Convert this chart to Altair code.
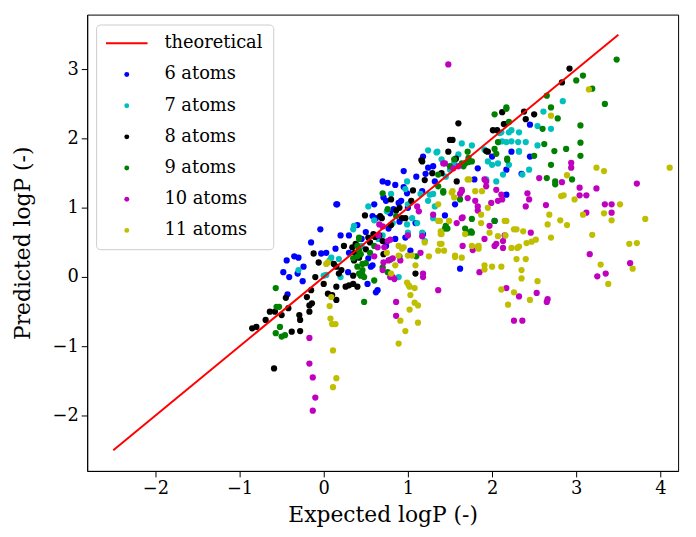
import altair as alt
import pandas as pd

series_names = ["6 atoms", "7 atoms", "8 atoms", "9 atoms", "10 atoms", "11 atoms"]
series_colors = ["#0000ff", "#00bfbf", "#000000", "#008000", "#bf00bf", "#bfbf00"]

theoretical_x = [-2.5, 3.5]
theoretical_y = [-2.5, 3.5]

atoms6 = [(0.15,1.05),(-0.04,0.69),(-0.44,0.24),(-0.3,0.28),(-0.35,0.3),(-0.48,0.07),(-0.41,0.0),
          (-0.31,0.05),(-0.24,0.15),(-0.25,-0.06),(-0.43,-0.25),(-0.03,0.34),(0.03,0.35),(0.7,1.38),
          (0.71,1.15),(0.74,1.1),(0.58,0.88),(0.53,0.27),(0.56,0.15),(0.52,-0.1),(0.62,-0.22),(0.14,0.41),
          (2.45,2.2),(1.18,1.74),(2.23,1.81),(2.45,1.74),(2.0,1.74),(0.95,1.53),(0.76,1.36),(0.85,1.33),
          (0.16,1.05),(0.99,1.21),(1.21,1.49),(1.17,1.24),(1.32,1.38),(0.92,1.1),(0.83,0.98),(0.62,0.85),
          (0.77,0.7),(0.97,0.57),(1.18,0.62),(0.85,0.55),(1.09,0.78),(0.74,0.45),(0.58,0.17),(0.29,0.07),
          (0.64,-0.19),(1.62,0.12),(1.83,1.57),(2.17,1.55),(2.35,1.49),(2.03,0.81),(1.79,1.41),(1.24,1.58),
          (0.89,1.07),(0.79,0.92),(1.44,0.89),(1.56,1.05),(1.03,0.38),(2.17,1.19),(-0.15,0.5),(0.4,0.75),
          (0.3,0.6),(1.1,1.45),(1.0,1.0),(0.9,0.8),(0.45,0.55),(0.5,0.65),(0.6,1.05),(0.95,1.3),
          (1.3,1.6),(0.3,0.35),(0.2,0.6)]

atoms7 = [(2.84,2.54),(2.61,2.39),(2.54,2.18),(2.7,2.14),(2.54,1.9),(2.23,2.12),(2.32,2.09),(2.12,1.96),
          (2.23,1.96),(2.09,2.08),(2.32,1.82),(2.4,1.95),(1.64,1.93),(1.76,1.9),(1.24,1.83),(1.34,1.8),
          (1.6,1.77),(1.91,1.84),(2.08,1.95),(1.35,1.81),(2.11,2.09),(2.2,2.09),(2.31,1.95),(2.32,1.81),
          (2.17,1.95),(1.95,1.67),(2.07,1.64),(2.05,1.38),(1.93,1.41),(0.53,1.02),(0.36,0.74),(0.99,1.38),
          (1.26,1.19),(1.24,1.1),(1.32,1.02),(1.3,0.85),(1.05,0.85),(0.99,0.76),(1.0,0.64),(0.09,0.28),
          (0.18,0.26),(1.5,1.55),(0.35,0.69),(0.6,0.82),(-0.3,0.1),(0.0,0.02),(0.03,0.03),(0.07,0.24),
          (0.2,0.0),(0.97,1.27),(1.15,1.2),(1.3,1.2),(1.11,0.78),(1.17,0.64),(1.2,0.52),(0.82,0.78),
          (0.89,0.0),(2.13,1.48),(2.36,1.48),(2.44,1.55),(2.0,1.62),(2.2,1.62),(0.7,0.6),(0.8,1.2),
          (1.45,1.45),(1.0,1.05),(0.45,0.45),(0.65,0.55),(0.75,0.95),(1.4,1.7),(1.55,1.65)]

atoms8 = [(-0.85,-0.74),(-0.8,-0.72),(-0.69,-0.62),(-0.64,-0.5),(-0.58,-0.5),(-0.42,-0.45),(-0.29,-0.55),
          (-0.28,-0.62),(-0.38,-0.79),(-0.28,-0.78),(-0.17,-0.41),(-0.17,-0.5),(-0.14,-0.38),(-0.59,-1.32),
          (0.15,-0.33),(0.49,0.89),(-0.12,0.34),(-0.06,0.21),(0.15,0.15),(0.24,0.45),(0.18,0.05),(0.21,0.1),
          (0.26,-0.14),(0.35,-0.1),(0.15,-0.14),(0.36,0.24),(0.53,0.57),(0.66,0.6),(0.67,0.88),(0.7,0.52),
          (-0.15,-0.19),(-0.2,-0.29),(0.05,-0.24),(0.1,-0.26),(0.35,0.02),(1.6,2.22),(1.5,1.98),(1.53,1.98),
          (1.48,1.81),(1.17,1.67),(1.29,1.5),(1.4,1.5),(1.58,1.38),(1.06,1.25),(1.04,1.1),(0.8,1.12),
          (0.86,0.96),(0.97,0.85),(0.93,0.85),(0.69,0.85),(0.59,0.62),(0.61,0.58),(0.42,0.28),(0.38,0.48),
          (0.34,0.43),(0.37,0.35),(0.12,0.19),(0.3,-0.12),(0.4,-0.14),(0.71,0.33),(1.09,0.05),(1.95,1.81),
          (2.01,2.12),(2.15,2.21),(2.12,2.38),(2.06,2.12),(2.38,2.39),(2.4,2.28),(2.14,2.21),(1.16,1.69),
          (1.93,1.82),(1.57,1.71),(2.92,3.01),(2.83,2.81),(2.5,2.35),(-0.5,-0.55),(-0.45,-0.3),(-0.1,0.0),
          (0.0,-0.1),(0.5,0.4),(0.55,0.5),(0.8,0.75),(0.9,1.0),(0.45,0.05),(1.2,1.4)]

atoms9 = [(-0.57,-0.16),(-0.56,-0.43),(-0.53,-0.43),(-0.52,-0.72),(-0.57,-0.81),(-0.5,-0.86),(-0.46,-0.84),
          (0.48,-0.36),(0.42,0.55),(0.42,0.38),(0.35,0.27),(0.4,0.3),(0.44,0.02),(0.48,0.0),(0.46,0.1),
          (0.7,1.21),(2.17,2.45),(2.03,2.35),(2.07,1.95),(2.05,1.78),(2.18,1.69),(1.71,1.81),(1.64,1.64),
          (1.68,1.64),(1.72,1.66),(1.76,1.67),(1.66,1.6),(1.36,1.48),(1.36,1.31),(1.42,1.24),(1.62,1.12),
          (1.76,0.84),(1.68,0.7),(1.76,0.64),(2.03,0.81),(1.44,0.7),(0.86,0.88),(0.76,0.98),(0.42,0.57),
          (0.4,0.45),(0.44,0.33),(0.46,0.19),(0.4,0.15),(0.42,0.05),(0.46,0.03),(0.5,0.2),(0.7,0.14),
          (0.76,0.07),(1.42,1.22),(1.45,0.74),(1.47,0.7),(1.71,0.64),(1.75,0.66),(0.79,0.25),(2.7,1.62),
          (2.65,1.43),(2.75,1.38),(2.75,1.34),(2.95,1.41),(3.48,3.14),(3.08,2.91),(3.0,2.84),(3.19,2.72),
          (2.65,2.62),(2.7,2.45),(3.34,2.5),(2.78,2.29),(3.05,2.19),(2.6,2.14),(2.62,1.92),(3.05,1.94),
          (2.88,1.85),(2.74,1.82),(3.05,1.75),(2.5,1.75),(2.17,2.43),(2.2,2.24),(1.72,1.72),(2.03,1.85),
          (2.18,1.71),(0.9,0.3),(1.1,0.3),(0.55,0.35),(0.6,0.45),(1.5,1.6),(1.55,1.7),(0.6,-0.05)]

atoms10 = [(1.48,3.07),(-0.17,-0.88),(-0.17,-1.25),(-0.13,-1.45),(-0.1,-1.74),(-0.13,-1.93),(0.86,-0.36),
           (0.86,-0.56),(2.26,-0.63),(2.36,-0.63),(2.65,-0.36),(2.94,1.58),(2.94,1.65),(2.56,1.43),(2.83,1.37),
           (3.04,1.29),(3.24,1.28),(3.04,1.18),(3.12,1.18),(3.72,1.35),(3.34,1.05),(3.42,1.05),(3.42,0.93),
           (3.12,0.93),(2.64,1.04),(3.16,0.33),(3.64,0.2),(3.35,0.05),(3.25,0.01),(2.53,-0.23),(2.66,-0.32),
           (1.44,1.64),(1.54,1.57),(1.6,1.6),(1.91,1.41),(1.93,1.31),(2.11,1.19),(1.99,1.07),(2.42,1.21),
           (2.44,1.12),(2.4,1.02),(1.64,1.26),(1.62,1.2),(1.83,1.02),(1.83,0.96),(1.58,0.78),(1.65,0.86),
           (1.11,1.02),(1.13,0.95),(0.79,0.54),(0.76,0.52),(0.91,0.24),(0.77,0.24),(1.65,0.45),(1.77,0.39),
           (2.03,0.45),(2.13,0.42),(2.13,0.52),(2.46,0.64),(1.91,0.55),(1.85,0.07),(1.36,-0.19),(2.17,-0.16),
           (2.32,-0.28),(1.18,0.05),(1.18,0.0),(0.82,0.0),(0.66,0.76),(0.7,0.73),(0.64,0.43),(0.72,0.43),
           (0.82,0.27),(0.71,0.21),(0.7,0.1),(0.79,0.0),(0.84,-0.03),(1.17,0.59),(1.15,0.35),(1.42,1.64),
           (1.64,1.24),(1.71,1.14),(1.8,1.1),(1.93,1.38),(1.64,0.85),(1.97,0.74),(2.15,0.6),(2.05,0.48),
           (2.07,1.1),(2.12,1.12),(2.05,1.26),(0.65,0.6),(0.6,0.3),(1.0,0.6),(1.3,0.9)]

atoms11 = [(0.07,-0.42),(0.08,-0.6),(0.1,-0.68),(0.14,-0.68),(0.11,-1.06),(0.15,-1.46),(0.11,-1.59),
           (0.05,0.21),(0.09,-0.29),(1.08,-0.37),(1.12,-0.41),(1.02,-0.47),(0.91,-0.63),(1.12,-0.66),
           (0.97,-0.78),(0.89,-0.96),(2.19,-0.4),(2.45,-0.33),(3.24,1.58),(3.33,1.53),(4.11,1.58),(2.89,1.47),
           (2.82,1.17),(2.85,1.18),(2.98,1.12),(2.68,0.9),(3.08,0.9),(3.33,0.92),(3.52,1.05),(3.42,0.82),
           (2.66,0.76),(2.81,0.82),(2.89,0.75),(3.82,0.84),(3.19,0.61),(2.7,0.57),(2.52,0.54),(3.63,0.48),
           (3.72,0.49),(3.29,0.18),(3.67,0.12),(3.38,-0.1),(2.54,-0.06),(1.71,1.41),(1.8,1.24),(1.88,1.24),
           (1.52,1.22),(1.55,1.15),(1.36,1.05),(1.87,0.9),(1.87,0.78),(1.97,0.64),(2.15,0.81),(1.36,0.81),
           (1.39,0.66),(1.39,0.62),(1.68,0.62),(2.07,0.59),(2.16,0.6),(2.26,0.69),(2.37,0.66),(1.4,0.48),
           (1.36,0.38),(1.43,0.38),(1.83,0.44),(1.84,0.41),(1.56,0.29),(2.23,0.42),(2.32,0.44),(2.41,0.49),
           (2.47,0.51),(2.29,0.26),(2.4,0.26),(1.91,0.11),(2.0,0.15),(2.11,0.15),(2.35,0.1),(2.35,-0.02),
           (1.02,-0.14),(1.08,-0.16),(1.03,-0.26),(2.11,-0.18),(2.26,-0.22),(1.09,0.17),(1.0,0.31),(0.89,0.45),
           (0.93,0.41),(0.89,0.31),(1.73,1.41),(1.53,1.24),(1.95,1.0),(1.38,0.81),(1.49,0.81),(1.4,0.62),
           (1.38,0.48),(1.56,0.31),(2.29,0.69),(2.17,0.81),(1.05,0.31),(0.95,0.43),(0.85,0.17),(0.99,-0.08),
           (1.01,-0.12),(1.76,0.45),(1.84,0.45),(2.3,0.42),(1.91,0.17),(1.64,0.28),(0.03,0.19),(3.15,2.71),
           (2.7,2.33),(0.75,0.35),(0.8,0.05),(1.2,0.5),(1.25,0.3)]

all_series = [atoms6, atoms7, atoms8, atoms9, atoms10, atoms11]

rows = []
for name, pts in zip(series_names, all_series):
    for (px, py) in pts:
        rows.append({"x": px, "y": py, "series": name})
points_df = pd.DataFrame(rows)
line_df = pd.DataFrame({"x": theoretical_x, "y": theoretical_y})

FONT = "DejaVu Serif"
legend_domain = ["theoretical"] + series_names
legend_colors = ["#ff0000"] + series_colors
line_shape = "M-8.4,-0.4H8.4V0.4H-8.4Z"
legend_shapes = [line_shape] + ["circle"] * 6

x_scale = alt.Scale(domain=[-2.81, 4.21], nice=False, zero=False)
y_scale = alt.Scale(domain=[-2.8, 3.79], nice=False, zero=False)
x_axis = alt.Axis(title="Expected logP (-)", values=[-2, -1, 0, 1, 2, 3, 4], format="d", titlePadding=7)
y_axis = alt.Axis(title="Predicted logP (-)", values=[-2, -1, 0, 1, 2, 3], format="d", titlePadding=18)

legend = alt.Legend(
    title=None, orient="none", legendX=9, legendY=10,
    labelFont=FONT, labelFontSize=18, labelColor="black",
    symbolSize=25, symbolOffset=12, labelOffset=29, rowPadding=13.5,
    padding=10, strokeColor="#cccccc", fillColor="rgba(255,255,255,0.8)",
    cornerRadius=4, symbolStrokeWidth=0,
)

points = alt.Chart(points_df).mark_point(filled=True, size=40, opacity=1).encode(
    x=alt.X("x:Q", scale=x_scale, axis=x_axis),
    y=alt.Y("y:Q", scale=y_scale, axis=y_axis),
    color=alt.Color("series:N", scale=alt.Scale(domain=legend_domain, range=legend_colors), legend=legend),
    shape=alt.Shape("series:N", scale=alt.Scale(domain=legend_domain, range=legend_shapes), legend=legend),
)

line = alt.Chart(line_df).mark_line(color="#ff0000", strokeWidth=2).encode(
    x=alt.X("x:Q", scale=x_scale),
    y=alt.Y("y:Q", scale=y_scale),
)

chart = alt.layer(points, line).properties(
    width=597, height=461,
    autosize=alt.AutoSizeParams(type="none"),
    padding={"left": 80, "top": 4, "right": 10, "bottom": 56},
).configure(font=FONT).configure_view(stroke="black", strokeWidth=1).configure_axis(
    grid=False, domainColor="black", tickColor="black", labelColor="black", titleColor="black",
    labelFont=FONT, titleFont=FONT, labelFontSize=18, titleFontSize=22, titleFontWeight="normal",
    tickSize=6, labelPadding=3,
).configure_legend(labelFont=FONT)

chart.save("out.html", embed_options={"renderer": "svg", "actions": False})
